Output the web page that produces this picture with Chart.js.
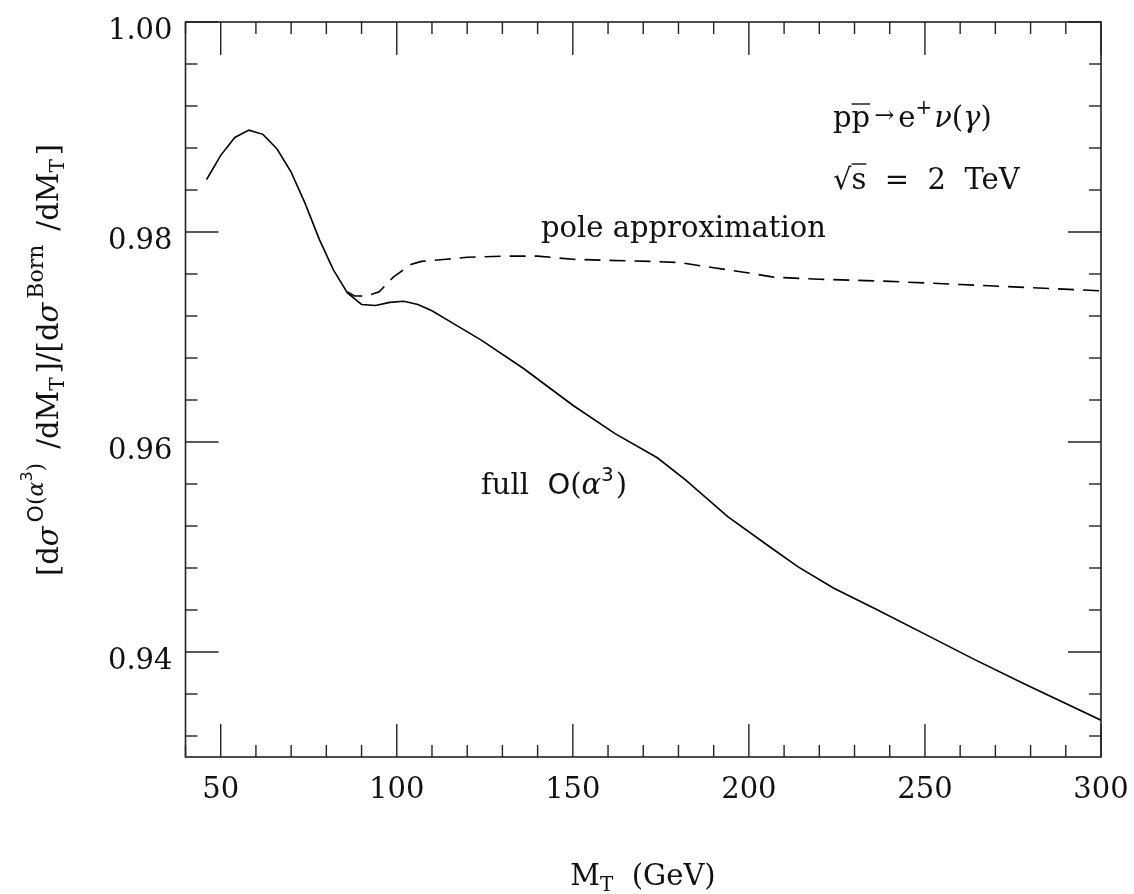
<!DOCTYPE html>
<html>
<head>
<meta charset="utf-8">
<script src="https://cdn.jsdelivr.net/npm/chart.js@4.4.1/dist/chart.umd.min.js"></script>
<style>
html, body { margin: 0; padding: 0; background: #fff; }
canvas { display: block; }
</style>
</head>
<body>
<canvas id="ratioChart" width="1134" height="894"></canvas>
<script>
// full O(alpha^3) correction, ratio to Born
const fullMT = [46, 50, 54, 58, 62, 66, 70, 74, 78, 82, 86, 90, 94, 98, 102, 106, 110, 116, 124, 136, 150, 162, 174, 182, 194, 206, 214, 224, 236, 250, 264, 278, 300];
const fullRatio = [0.9850, 0.9873, 0.9890, 0.9897, 0.9893, 0.9879, 0.9857, 0.9827, 0.9793, 0.9764, 0.9742, 0.9731, 0.9730, 0.9733, 0.9734, 0.9731, 0.9725, 0.9713, 0.9697, 0.9670, 0.9635, 0.9608, 0.9585, 0.9564, 0.9529, 0.9500, 0.9481, 0.9461, 0.9441, 0.9417, 0.9393, 0.9370, 0.9335];

// pole approximation
const poleMT = [86, 88, 91.5, 95, 99, 104, 107, 114, 120, 130, 140, 150, 160, 172, 180, 190, 200, 207, 220, 240, 260, 280, 300];
const poleRatio = [0.9743, 0.9739, 0.9739, 0.9743, 0.9757, 0.9769, 0.9772, 0.9774, 0.9776, 0.9777, 0.9777, 0.9774, 0.9773, 0.9772, 0.9771, 0.9766, 0.9761, 0.9757, 0.9755, 0.9753, 0.9750, 0.9747, 0.9744];

// axis ticks
const xLabelTicks = [50, 100, 150, 200, 250, 300];
const xMinorTicks = [40, 60, 70, 80, 90, 110, 120, 130, 140, 160, 170, 180, 190, 210, 220, 230, 240, 260, 270, 280, 290];
const yLabelTicks = [0.94, 0.96, 0.98, 1.00];
const yMinorTicks = [0.932, 0.936, 0.944, 0.948, 0.952, 0.956, 0.964, 0.968, 0.972, 0.976, 0.984, 0.988, 0.992, 0.996];

const SERIF = "'DejaVu Serif', serif";
const SANS = "'DejaVu Sans', sans-serif";
const S = 29;
const INK = '#111';

function toPoints(xs, ys) {
    return xs.map((x, i) => ({ x: x, y: ys[i] }));
}

// text run helper: each part = { t, size, dy, italic, family, over, gap }
function drawRich(ctx, parts, x, y, align) {
    let total = 0;
    parts.forEach(p => {
        ctx.font = (p.italic ? 'italic ' : '') + (p.size || S) + 'px ' + (p.family || SERIF);
        p.w = ctx.measureText(p.t).width + (p.gap || 0);
        total += p.w;
    });
    let cx = align === 'center' ? x - total / 2 : x;
    ctx.textBaseline = 'alphabetic';
    ctx.textAlign = 'left';
    parts.forEach(p => {
        const size = p.size || S;
        ctx.font = (p.italic ? 'italic ' : '') + size + 'px ' + (p.family || SERIF);
        ctx.fillText(p.t, cx, y + (p.dy || 0));
        if (p.over) {
            ctx.beginPath();
            ctx.lineWidth = 1.4;
            ctx.moveTo(cx, y + p.over);
            ctx.lineTo(cx + p.w - (p.gap || 0), y + p.over);
            ctx.stroke();
        }
        cx += p.w;
    });
}

const frameTicks = {
    id: 'frameTicks',
    afterDraw(chart) {
        const { ctx, chartArea: a, scales } = chart;
        const xs = scales.x, ys = scales.y;
        ctx.save();
        ctx.strokeStyle = '#222';
        ctx.lineWidth = 1.6;
        ctx.strokeRect(a.left, a.top, a.right - a.left, a.bottom - a.top);

        ctx.lineWidth = 1.4;
        const tick = (x1, y1, x2, y2) => {
            ctx.beginPath();
            ctx.moveTo(x1, y1);
            ctx.lineTo(x2, y2);
            ctx.stroke();
        };
        xLabelTicks.forEach(v => {
            const px = xs.getPixelForValue(v);
            tick(px, a.bottom, px, a.bottom - 33);
            tick(px, a.top, px, a.top + 33);
        });
        xMinorTicks.forEach(v => {
            const px = xs.getPixelForValue(v);
            tick(px, a.bottom, px, a.bottom - 12);
            tick(px, a.top, px, a.top + 12);
        });
        yLabelTicks.forEach(v => {
            const py = ys.getPixelForValue(v);
            tick(a.left, py, a.left + 33, py);
            tick(a.right, py, a.right - 33, py);
        });
        yMinorTicks.forEach(v => {
            const py = ys.getPixelForValue(v);
            tick(a.left, py, a.left + 12, py);
            tick(a.right, py, a.right - 12, py);
        });
        ctx.restore();
    }
};

const annotations = {
    id: 'annotations',
    afterDraw(chart) {
        const { ctx } = chart;
        ctx.save();
        ctx.fillStyle = INK;
        ctx.strokeStyle = INK;

        // x axis title
        drawRich(ctx, [
            { t: 'M' },
            { t: 'T', size: 20, dy: 6 },
            { t: '  (GeV)' }
        ], 643, 885, 'center');

        // y axis title, reading upwards
        ctx.save();
        ctx.translate(58, 360);
        ctx.rotate(-Math.PI / 2);
        drawRich(ctx, [
            { t: '[d' },
            { t: 'σ', italic: true, gap: 4 },
            { t: 'O', size: 22, dy: -15, family: SANS },
            { t: '(', size: 22, dy: -15 },
            { t: 'α', size: 22, dy: -15, italic: true },
            { t: '3', size: 16, dy: -26, family: SANS },
            { t: ')', size: 22, dy: -15, gap: 14 },
            { t: '/dM' },
            { t: 'T', size: 20, dy: 6, gap: 4 },
            { t: ']/[d' },
            { t: 'σ', italic: true, gap: 4 },
            { t: 'Born', size: 22, dy: -15, gap: 14 },
            { t: '/dM' },
            { t: 'T', size: 20, dy: 6, gap: 4 },
            { t: ']' }
        ], 0, 0, 'center');
        ctx.restore();

        // process label
        drawRich(ctx, [
            { t: 'p' },
            { t: 'p', over: -23, gap: 4 },
            { t: '→', size: 24, dy: -4, gap: 4 },
            { t: 'e' },
            { t: '+', size: 20, dy: -13, gap: 2 },
            { t: 'ν', italic: true },
            { t: '(' },
            { t: 'γ', italic: true },
            { t: ')' }
        ], 833, 127, 'left');

        // collider energy
        drawRich(ctx, [
            { t: '√' },
            { t: 's', over: -25 },
            { t: '  =  2  TeV' }
        ], 833, 189, 'left');

        drawRich(ctx, [{ t: 'pole approximation' }], 541, 237, 'left');

        drawRich(ctx, [
            { t: 'full  ' },
            { t: 'O', family: SANS },
            { t: '(' },
            { t: 'α', italic: true },
            { t: '3', size: 20, dy: -13, family: SANS, gap: 2 },
            { t: ')' }
        ], 481, 494, 'left');

        ctx.restore();
    }
};

const ctx = document.getElementById('ratioChart').getContext('2d');

const chart = new Chart(ctx, {
    type: 'line',
    data: {
        datasets: [{
            label: 'full O(α³)',
            data: toPoints(fullMT, fullRatio),
            borderColor: '#000',
            borderWidth: 1.6,
            pointRadius: 0,
            tension: 0,
            fill: false
        }, {
            label: 'pole approximation',
            data: toPoints(poleMT, poleRatio),
            borderColor: '#000',
            borderWidth: 1.6,
            borderDash: [16, 9],
            pointRadius: 0,
            tension: 0,
            fill: false
        }]
    },
    options: {
        responsive: false,
        animation: false,
        events: [],
        layout: {
            padding: { top: 22, right: 33, left: 0, bottom: 0 }
        },
        plugins: {
            legend: { display: false },
            tooltip: { enabled: false }
        },
        scales: {
            x: {
                type: 'linear',
                min: 40,
                max: 300,
                grid: { display: false, drawTicks: false },
                border: { display: false },
                afterBuildTicks: (scale) => {
                    scale.ticks = xLabelTicks.map(v => ({ value: v }));
                },
                afterFit: (scale) => {
                    scale.height = 137;
                    scale.paddingLeft = 0;
                    scale.paddingRight = 0;
                },
                ticks: {
                    color: INK,
                    padding: 16,
                    maxRotation: 0,
                    autoSkip: false,
                    font: { family: SERIF, size: S },
                    callback: (v) => String(v)
                }
            },
            y: {
                type: 'linear',
                min: 0.93,
                max: 1.0,
                grid: { display: false, drawTicks: false },
                border: { display: false },
                afterBuildTicks: (scale) => {
                    scale.ticks = yLabelTicks.map(v => ({ value: v }));
                },
                afterFit: (scale) => {
                    scale.width = 185.5;
                    scale.paddingTop = 0;
                    scale.paddingBottom = 0;
                },
                ticks: {
                    color: INK,
                    padding: 13,
                    labelOffset: 9,
                    autoSkip: false,
                    font: { family: SERIF, size: S },
                    callback: (v) => v.toFixed(2)
                }
            }
        }
    },
    plugins: [frameTicks, annotations]
});
</script>
</body>
</html>
